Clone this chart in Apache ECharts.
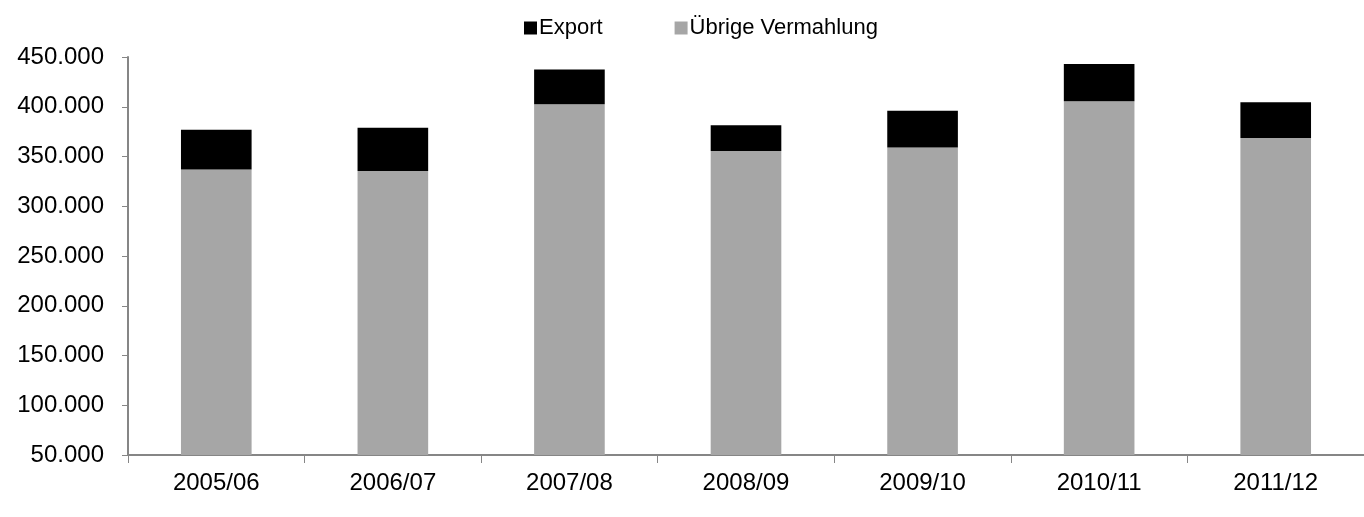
<!DOCTYPE html>
<html>
<head>
<meta charset="utf-8">
<script src="https://cdn.jsdelivr.net/npm/echarts@6/dist/echarts.min.js"></script>
<style>html,body{margin:0;padding:0;background:#fff}#c{width:1364px;height:517px}</style>
</head>
<body>
<div id="c"></div>
<script>
const categories = ['2005/06','2006/07','2007/08','2008/09','2009/10','2010/11','2011/12'];
const uebrige = [337000, 335500, 402500, 355500, 359000, 405500, 368500];
const exportVals = [40000, 43500, 35000, 26000, 37000, 37500, 36000];
const yTicks = {min: 50000, max: 450000, interval: 50000};

const fmt = v => String(v).replace(/\B(?=(\d{3})+(?!\d))/g, '.');
const FONT = 'Liberation Sans, Arial, sans-serif';
const chart = echarts.init(document.getElementById('c'), null, {renderer: 'canvas'});
chart.setOption({
  animation: false,
  textStyle: {fontFamily: FONT},
  legend: {
    top: 12, left: 519,
    data: ['Export', 'Übrige Vermahlung'],
    icon: 'rect', itemWidth: 13, itemHeight: 13, itemGap: 72,
    textStyle: {fontSize: 22, color: '#000', fontFamily: FONT, padding: [0, 0, 0, -3]}
  },
  grid: {left: 128, right: -14, top: 57, bottom: 62, containLabel: false},
  xAxis: {
    type: 'category', data: categories,
    axisLine: {lineStyle: {color: '#868686', width: 2}},
    axisTick: {show: true, length: 8, lineStyle: {color: '#868686'}},
    axisLabel: {fontSize: 24, color: '#000', margin: 16, fontFamily: FONT}
  },
  yAxis: {
    type: 'value', min: yTicks.min, max: yTicks.max, interval: yTicks.interval,
    axisLine: {show: true, lineStyle: {color: '#868686', width: 2}},
    axisTick: {show: true, length: 6, lineStyle: {color: '#868686'}},
    splitLine: {show: false},
    axisLabel: {fontSize: 24, color: '#000', margin: 24, formatter: fmt, fontFamily: FONT,
                padding: [3, 0, 0, 0]}
  },
  series: [
    {name: 'Übrige Vermahlung', type: 'bar', stack: 't', data: uebrige, barWidth: '40%',
     itemStyle: {color: '#A6A6A6'}},
    {name: 'Export', type: 'bar', stack: 't', data: exportVals, barWidth: '40%',
     itemStyle: {color: '#000000'}}
  ]
});
</script>
</body>
</html>
